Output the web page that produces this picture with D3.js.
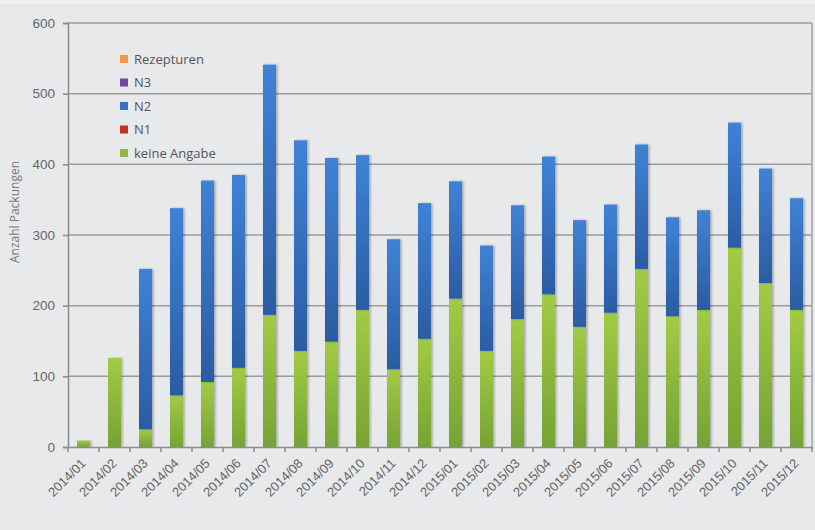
<!DOCTYPE html>
<html><head><meta charset="utf-8">
<script src="https://cdn.jsdelivr.net/npm/d3@7"></script>
<style>
html,body{margin:0;padding:0;background:#e7e9eb;}
svg{display:block;font-family:"Open Sans","Noto Sans",sans-serif;}
</style></head>
<body><svg id="c" width="815" height="530"></svg>
<script>
const months = ["2014/01","2014/02","2014/03","2014/04","2014/05","2014/06","2014/07","2014/08","2014/09","2014/10","2014/11","2014/12",
"2015/01","2015/02","2015/03","2015/04","2015/05","2015/06","2015/07","2015/08","2015/09","2015/10","2015/11","2015/12"];
const keineAngabe = [9,126,25,73,92,112,187,136,149,194,110,153,210,136,181,216,170,190,252,185,194,282,232,194];
const n1 = [0,0,0,0,0,0,0,0,0,0,0,0,0,0,0,0,0,0,0,0,0,0,0,0];
const n2 = [0,0,227,265,285,273,354,298,260,219,184,192,166,149,161,195,151,153,176,140,141,177,162,158];
const n3 = [0,0,0,0,0,0,0,0,0,0,0,0,0,0,0,0,0,0,0,0,0,0,0,0];
const rezepturen = [0,0,0,0,0,0,0,0,0,0,0,0,0,0,0,0,0,0,0,0,0,0,0,0];
const yTicks = [0,100,200,300,400,500,600];
const seriesNames = ["keine Angabe","N1","N2","N3","Rezepturen"];
const legendOrder = ["Rezepturen","N3","N2","N1","keine Angabe"];

const colors = {"keine Angabe":["#a2cb44","#76a334"],"N1":["#c0392b","#a82a20"],"N2":["#3f82d6","#2b5ca3"],"N3":["#7f5aa6","#6a4a90"],"Rezepturen":["#f79646","#e07f30"]};
const legendColors = {"Rezepturen":"#f79646","N3":"#7647a2","N2":"#3a70c0","N1":"#c0302a","keine Angabe":"#8fb943"};

const rows = months.map((m,i)=>({month:m,"keine Angabe":keineAngabe[i],"N1":n1[i],"N2":n2[i],"N3":n3[i],"Rezepturen":rezepturen[i]}));
const stacked = d3.stack().keys(seriesNames)(rows);

const svg = d3.select("#c");
svg.append("rect").attr("x",0).attr("y",0).attr("width",815).attr("height",4).attr("fill","#eef0f1");
const margin = {left:68, right:3, top:23, bottom:83};
const x = d3.scaleBand().domain(months).range([margin.left, 812]).paddingInner(0.58).paddingOuter(0.29);
const y = d3.scaleLinear().domain([0,600]).range([447,23]);

const defs = svg.append("defs");
seriesNames.forEach((s,i)=>{
  const g = defs.append("linearGradient").attr("id","g"+i).attr("x1",0).attr("x2",0).attr("y1",0).attr("y2",1);
  g.append("stop").attr("offset","0%").attr("stop-color",colors[s][0]);
  g.append("stop").attr("offset","100%").attr("stop-color",colors[s][1]);
});
const f = defs.append("filter").attr("id","sh").attr("x","-30%").attr("y","-5%").attr("width","170%").attr("height","115%");
f.append("feDropShadow").attr("dx",1.5).attr("dy",0).attr("stdDeviation",1.2).attr("flood-color","#000").attr("flood-opacity",0.3);

// gridlines
svg.append("g").selectAll("line").data(yTicks.filter(d=>d>0)).join("line")
  .attr("x1",margin.left).attr("x2",812).attr("y1",d=>y(d)).attr("y2",d=>y(d))
  .attr("stroke","#9a9c9e").attr("stroke-width",1.5);
svg.append("line").attr("x1",812).attr("x2",812).attr("y1",y(600)).attr("y2",y(0)).attr("stroke","#a0a2a4").attr("stroke-width",1.5);

// bars
svg.append("g").selectAll("g").data(stacked).join("g")
  .attr("fill",(d,i)=>`url(#g${i})`)
  .selectAll("rect").data(d=>d).join("rect")
  .attr("x",d=>x(d.data.month)).attr("width",x.bandwidth())
  .attr("y",d=>y(d[1])).attr("height",d=>Math.max(0,y(d[0])-y(d[1])))
  .attr("filter","url(#sh)");

// y axis
const ya = svg.append("g").attr("transform",`translate(${margin.left},0)`)
  .call(d3.axisLeft(y).tickValues(yTicks).tickSize(5).tickPadding(8));
ya.select(".domain").attr("stroke","#8a8c8e").attr("stroke-width",1.5);
ya.selectAll(".tick line").attr("stroke","#8a8c8e").attr("stroke-width",1.5);
ya.selectAll("text").attr("fill","#666").attr("font-size",13.5);

// x axis with ticks at band boundaries
const xa = svg.append("g").attr("transform",`translate(0,${y(0)})`)
  .call(d3.axisBottom(x).tickSize(0).tickPadding(0));
xa.select(".domain").attr("stroke","#8a8c8e").attr("stroke-width",1.5);
const step = x.step();
const bounds = d3.range(months.length+1).map(i=>margin.left + i*step);
xa.append("g").selectAll("line").data(bounds).join("line")
  .attr("x1",d=>d).attr("x2",d=>d).attr("y1",0).attr("y2",5)
  .attr("stroke","#8a8c8e").attr("stroke-width",1.5);
xa.selectAll(".tick text")
  .attr("fill","#666").attr("font-size",13)
  .attr("text-anchor","end").attr("dy","0.35em")
  .attr("transform","translate(0,14) rotate(-45)");

// y label
svg.append("text").attr("transform",`translate(19,212) rotate(-90)`)
  .attr("text-anchor","middle").attr("font-size",12).attr("fill","#777").text("Anzahl Packungen");

// legend
const lg = svg.append("g").attr("transform","translate(120,59)");
const li = lg.selectAll("g").data(legendOrder).join("g").attr("transform",(d,i)=>`translate(0,${i*23.5})`);
li.append("rect").attr("x",0).attr("y",-4).attr("width",8).attr("height",8).attr("fill",d=>legendColors[d]);
li.append("text").attr("x",14).attr("y",0).attr("dy","0.35em").attr("font-size",13).attr("fill","#555").text(d=>d);
</script></body></html>
